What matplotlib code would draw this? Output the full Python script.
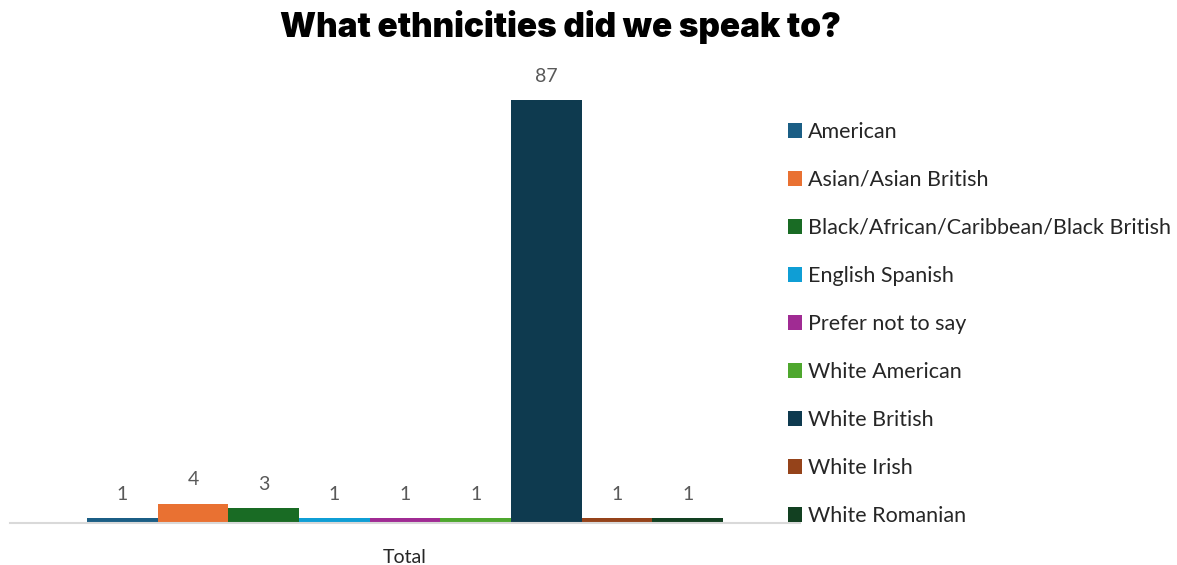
import matplotlib
matplotlib.use("Agg")
import matplotlib.pyplot as plt
from matplotlib.patches import Patch

categories = ["American", "Asian/Asian British", "Black/African/Caribbean/Black British",
              "English Spanish", "Prefer not to say", "White American", "White British",
              "White Irish", "White Romanian"]
values = [1, 4, 3, 1, 1, 1, 87, 1, 1]
colors = ["#1B5E85", "#E97132", "#196B24", "#0F9ED5", "#A02B93", "#4EA72E",
          "#0E3A4F", "#95431A", "#124021"]
group_label = "Total"

plt.rcParams['font.family'] = ['Lato', 'DejaVu Sans']

fig = plt.figure(figsize=(11.77, 5.65), dpi=100)
ax = fig.add_axes([10/1177, 1-523/565, 790/1177, 463/565])

n = len(values)
group_w = 0.805
bw = group_w / n
xs = [-group_w/2 + bw*(i+0.5) for i in range(n)]
bars = ax.bar(xs, values, width=bw, color=colors, zorder=2)
ax.bar_label(bars, labels=[str(v) for v in values], padding=11, fontsize=14, color="#595959")

ax.set_xlim(-0.5, 0.5)
ax.set_ylim(0, 87*463/423)
ax.set_xticks([0])
ax.set_xticklabels([group_label], fontsize=14, color="#262626")
ax.tick_params(axis='x', length=0, pad=19)
ax.set_yticks([])
for s in ["top", "right", "left"]:
    ax.spines[s].set_visible(False)
ax.spines["bottom"].set_color("#D9D9D9")
ax.spines["bottom"].set_linewidth(1.5)
ax.spines["bottom"].set_zorder(3)

fig.text(560/1177, 1-27/565, "What ethnicities did we speak to?", ha="center", va="center",
         fontsize=24, fontweight="black", family=["Inter", "DejaVu Sans"], color="black")

handles = [Patch(facecolor=c, edgecolor="none") for c in colors]
fig.legend(handles, categories, loc="upper left", bbox_to_anchor=(788/1177, 1-122/565),
           frameon=False, fontsize=15.5, handlelength=0.66, handleheight=0.66,
           handletextpad=0.28, labelspacing=1.30, borderpad=0, borderaxespad=0,
           labelcolor="#262626")

fig.savefig("out.png", dpi=100, facecolor="white")
